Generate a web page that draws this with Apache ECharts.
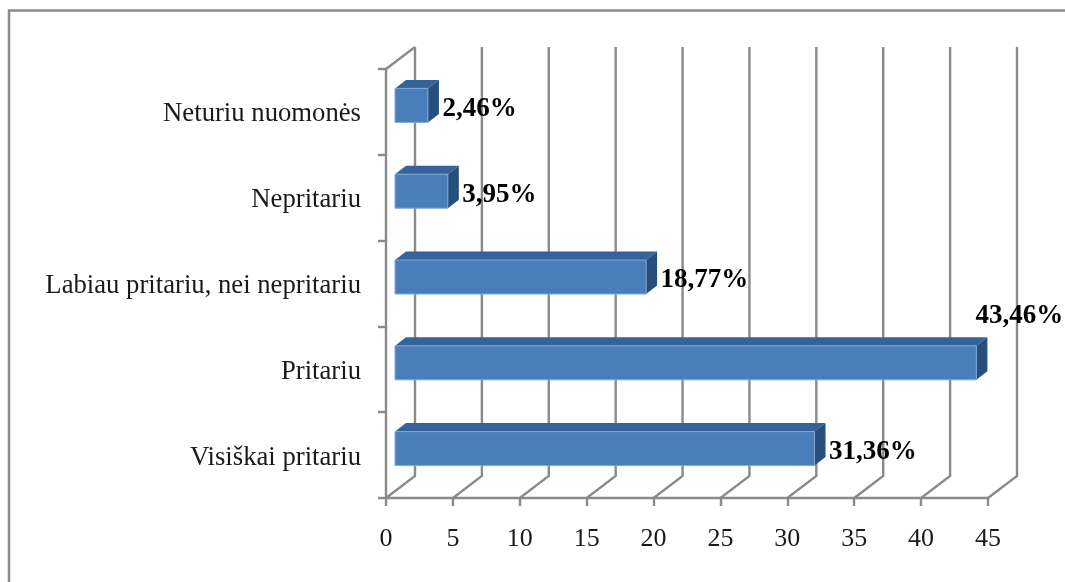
<!DOCTYPE html>
<html><head><meta charset="utf-8">
<script src="https://cdn.jsdelivr.net/npm/echarts@6/dist/echarts.min.js"></script>
<style>html,body{margin:0;padding:0;background:#fff}#c{width:1065px;height:582px}</style>
</head><body><div id="c"></div>
<script>
const categories = ['Visiškai pritariu','Pritariu','Labiau pritariu, nei nepritariu','Nepritariu','Neturiu nuomonės'];
const values = [31.36,43.46,18.77,3.95,2.46];
const valueLabels = ['31,36%','43,46%','18,77%','3,95%','2,46%'];
const xTicks = [0,5,10,15,20,25,30,35,40,45];

const FONT = '"Liberation Serif","Times New Roman",serif';
const AXIS = '#8a8a8a';
const LW = 2.4;
const WALL = {dx:29, dy:-22};
const BAR = {inX:9, inY:-6.5, dx:11, dy:-8.5, h:34};

function renderGrid(params, api){
  const v = api.value(0), cs = params.coordSys;
  const x = api.coord([v,0])[0], b = cs.y+cs.height, t = cs.y;
  const children = [{type:'polyline',shape:{points:[[x,b],[x+WALL.dx,b+WALL.dy],[x+WALL.dx,t+WALL.dy]]},
    style:{stroke:AXIS,lineWidth:LW,fill:null}}];
  if(v===0) children.push({type:'line',shape:{x1:x,y1:t,x2:x+WALL.dx,y2:t+WALL.dy},style:{stroke:AXIS,lineWidth:LW}});
  return {type:'group',children};
}
function renderBar(params, api){
  const i = params.dataIndex, val = api.value(0);
  const p0 = api.coord([0,i]), p1 = api.coord([val,i]);
  const x0 = p0[0]+BAR.inX, x1 = p1[0]+BAR.inX;
  const yt = p0[1]+BAR.inY-BAR.h/2, yb = yt+BAR.h;
  const lift = val>40 ? [-1,-53] : [14.5,-3];
  return {type:'group',children:[
    {type:'polygon',shape:{points:[[x0,yt],[x1,yt],[x1+BAR.dx,yt+BAR.dy],[x0+BAR.dx,yt+BAR.dy]]},style:{fill:'#35629a'}},
    {type:'polygon',shape:{points:[[x1,yt],[x1+BAR.dx,yt+BAR.dy],[x1+BAR.dx,yb+BAR.dy],[x1,yb]]},style:{fill:'#264f7d'}},
    {type:'rect',shape:{x:x0,y:yt,width:x1-x0,height:BAR.h},style:{fill:'#4a7ebb',stroke:'#7fa6d3',lineWidth:1}},
    {type:'text',x:x1+lift[0],y:p1[1]+lift[1],style:{text:valueLabels[i],font:'bold 27px '+FONT,fill:'#000',textAlign:'left',textVerticalAlign:'middle'}}
  ]};
}
const chart = echarts.init(document.getElementById('c'),null,{renderer:'canvas'});
chart.setOption({
  animation:false,
  backgroundColor:'#fff',
  graphic:[{type:'polyline',silent:true,shape:{points:[[9,582],[9,10.5],[1065,10.5]]},style:{stroke:'#8a8a8a',lineWidth:2.5,fill:null}}],
  grid:{left:386,top:69,width:602,height:429,containLabel:false},
  xAxis:{type:'value',min:0,max:45,interval:5,splitLine:{show:false},
    axisLine:{show:true,lineStyle:{color:AXIS,width:LW}},
    axisTick:{show:true,length:8,lineStyle:{color:AXIS,width:LW}},
    axisLabel:{fontFamily:FONT,fontSize:26,color:'#1a1a1a',margin:28}},
  yAxis:{type:'category',data:categories,boundaryGap:true,
    axisLine:{show:true,lineStyle:{color:AXIS,width:LW}},
    axisTick:{show:true,length:8,alignWithLabel:false,lineStyle:{color:AXIS,width:LW}},
    axisLabel:{margin:25,formatter:v=>'{a|'+v+'}',
      rich:{a:{fontFamily:FONT,fontSize:26.7,color:'#1a1a1a',padding:[5,0,0,0]}}}},
  series:[
    {type:'custom',name:'grid',coordinateSystem:'cartesian2d',silent:true,z:1,clip:false,renderItem:renderGrid,
      encode:{x:0},data:xTicks.map(v=>[v])},
    {type:'custom',name:'share',coordinateSystem:'cartesian2d',silent:true,z:3,clip:false,renderItem:renderBar,
      encode:{x:0},data:values.map(v=>[v])}
  ]
});
</script></body></html>
